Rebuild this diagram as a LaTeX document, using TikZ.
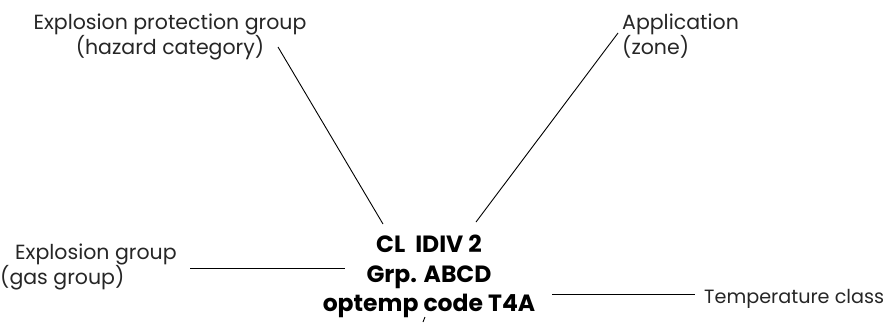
\documentclass[tikz,border=0pt]{standalone}
\usepackage{fontspec}
\setmainfont{Poppins}
\begin{document}
\begin{tikzpicture}[x=1pt,y=-1pt]
\useasboundingbox (0,0) rectangle (890,322);
\tikzset{lbl/.style={inner sep=0pt,font=\fontsize{20.5}{25}\selectfont,text=black!85},
  lead/.style={line width=0.9pt}}
% labels
\node[lbl,align=center,anchor=north] (protgroup) at (170,14) {Explosion protection group\\(hazard category)};
\node[lbl,align=left,anchor=north west] (appl) at (622,14) {Application\\(zone)};
\node[lbl,align=left,anchor=north west] (gasgroup) at (0,244) {\hspace{15pt}Explosion group\\(gas group)};
\node[lbl,font=\fontsize{19.2}{25}\selectfont,anchor=base west] (tempclass) at (704,303) {Temperature class};
\node[font=\fontsize{23.5}{29.5}\selectfont\bfseries,align=center,inner sep=0pt,anchor=north] (marking) at (429,235) {CL\ \ IDIV 2\\Grp. ABCD\\optemp code T4A};
% connectors
\coordinate (p1) at (278,47); \coordinate (p2) at (383,224);
\coordinate (a1) at (618,33); \coordinate (a2) at (476,222);
\coordinate (g1) at (190,268); \coordinate (g2) at (345,268);
\coordinate (t1) at (552,294); \coordinate (t2) at (695,294);
\coordinate (c1) at (425,317); \coordinate (c2) at (423,322);
\draw[lead] (p1) -- (p2);
\draw[lead] (a1) -- (a2);
\draw[lead] (g1) -- (g2);
\draw[lead] (t1) -- (t2);
\draw[lead] (c1) -- (c2);
\end{tikzpicture}
\end{document}
